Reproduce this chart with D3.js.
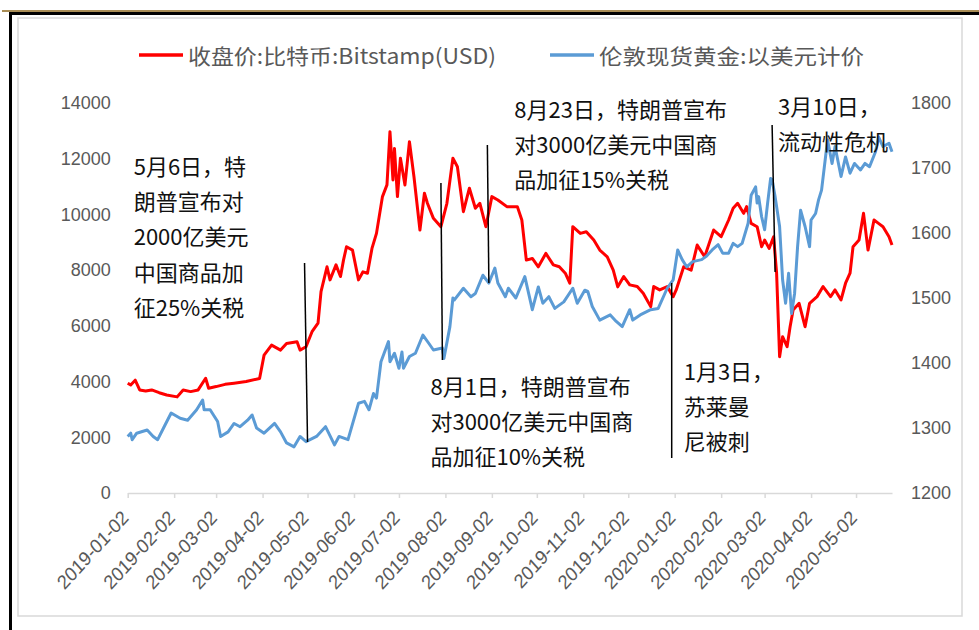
<!DOCTYPE html>
<html>
<head>
<meta charset="utf-8">
<script src="https://cdn.jsdelivr.net/npm/d3@7"></script>
<style>
  body { margin: 0; background: #fff; }
  svg { display: block; }
  .tick text, .axis-label { font-family: "Liberation Sans", Arial, sans-serif; }
  .cn { font-family: "Noto Sans CJK SC", sans-serif; }
</style>
</head>
<body>
<svg width="979" height="630"></svg>
<script>
// 比特币收盘价 (左轴, USD)
const btcDates = ['2019-01-02','2019-01-04','2019-01-07','2019-01-10','2019-01-14','2019-01-18','2019-01-23','2019-01-28','2019-02-04','2019-02-08','2019-02-13','2019-02-18','2019-02-23','2019-02-25','2019-03-02','2019-03-08','2019-03-14','2019-03-22','2019-03-31','2019-04-03','2019-04-08','2019-04-14','2019-04-18','2019-04-25','2019-04-27','2019-05-01','2019-05-05','2019-05-09','2019-05-11','2019-05-15','2019-05-17','2019-05-21','2019-05-24','2019-05-26','2019-05-28','2019-06-01','2019-06-05','2019-06-08','2019-06-11','2019-06-14','2019-06-17','2019-06-21','2019-06-24','2019-06-26','2019-06-28','2019-06-29','2019-07-01','2019-07-03','2019-07-06','2019-07-09','2019-07-12','2019-07-16','2019-07-19','2019-07-21','2019-07-25','2019-07-30','2019-08-03','2019-08-07','2019-08-10','2019-08-14','2019-08-18','2019-08-22','2019-08-25','2019-08-29','2019-09-02','2019-09-06','2019-09-12','2019-09-19','2019-09-22','2019-09-25','2019-09-29','2019-10-03','2019-10-08','2019-10-13','2019-10-17','2019-10-21','2019-10-24','2019-10-26','2019-10-31','2019-11-04','2019-11-09','2019-11-13','2019-11-18','2019-11-22','2019-11-25','2019-11-29','2019-12-03','2019-12-08','2019-12-12','2019-12-17','2019-12-19','2019-12-23','2019-12-28','2020-01-01','2020-01-03','2020-01-08','2020-01-13','2020-01-17','2020-01-22','2020-01-28','2020-02-02','2020-02-07','2020-02-10','2020-02-13','2020-02-17','2020-02-19','2020-02-22','2020-02-26','2020-02-29','2020-03-02','2020-03-05','2020-03-08','2020-03-10','2020-03-12','2020-03-14','2020-03-17','2020-03-19','2020-03-21','2020-03-25','2020-03-29','2020-04-01','2020-04-06','2020-04-10','2020-04-15','2020-04-18','2020-04-22','2020-04-25','2020-04-28','2020-04-30','2020-05-04','2020-05-07','2020-05-10','2020-05-14','2020-05-17','2020-05-20','2020-05-24','2020-05-26']
const btcClose = [3940,3880,4050,3700,3660,3700,3600,3520,3450,3700,3640,3700,4120,3760,3820,3900,3940,4000,4110,4950,5310,5130,5370,5430,5130,5250,5790,6100,7230,8120,7650,8190,7770,8360,8840,8720,7650,7940,7890,8780,9320,10640,11060,12970,11240,12370,10640,12020,11060,12610,11360,9440,10760,10400,9860,9560,10400,12020,11710,10100,10940,10220,10400,9560,10640,10520,10280,10280,9800,8360,8420,8120,8600,8190,8120,7890,7530,9560,9320,9380,9080,8720,8480,8000,7400,7770,7470,7410,7170,6690,7410,7290,7410,7050,7290,8120,8000,8900,8480,9440,9200,9800,10220,10400,10040,10280,9680,9560,8840,9080,8780,9200,7890,4890,5610,5250,5970,6570,6810,5970,6810,7050,7410,7050,7290,6930,7530,7890,8840,9080,10040,8720,9800,9680,9560,9200,8900]

// 伦敦现货黄金 (右轴, 美元/盎司)
const goldDates = ['2019-01-02','2019-01-04','2019-01-05','2019-01-08','2019-01-15','2019-01-19','2019-01-22','2019-01-27','2019-01-31','2019-02-06','2019-02-11','2019-02-17','2019-02-21','2019-02-22','2019-02-26','2019-03-03','2019-03-05','2019-03-10','2019-03-14','2019-03-18','2019-03-23','2019-03-26','2019-03-29','2019-04-03','2019-04-10','2019-04-14','2019-04-18','2019-04-23','2019-04-27','2019-05-01','2019-05-08','2019-05-14','2019-05-20','2019-05-23','2019-05-29','2019-06-05','2019-06-09','2019-06-12','2019-06-15','2019-06-17','2019-06-20','2019-06-25','2019-06-26','2019-06-29','2019-07-02','2019-07-04','2019-07-05','2019-07-09','2019-07-13','2019-07-18','2019-07-22','2019-07-25','2019-07-31','2019-08-01','2019-08-05','2019-08-07','2019-08-08','2019-08-14','2019-08-19','2019-08-22','2019-08-27','2019-08-31','2019-09-04','2019-09-06','2019-09-11','2019-09-13','2019-09-18','2019-09-24','2019-09-29','2019-10-03','2019-10-06','2019-10-10','2019-10-14','2019-10-20','2019-10-26','2019-10-29','2019-11-03','2019-11-05','2019-11-08','2019-11-13','2019-11-20','2019-11-24','2019-11-28','2019-12-03','2019-12-05','2019-12-10','2019-12-17','2019-12-22','2019-12-28','2020-01-01','2020-01-04','2020-01-07','2020-01-10','2020-01-14','2020-01-20','2020-01-23','2020-01-27','2020-01-31','2020-02-03','2020-02-07','2020-02-10','2020-02-13','2020-02-16','2020-02-20','2020-02-22','2020-02-25','2020-02-26','2020-02-27','2020-02-29','2020-03-02','2020-03-04','2020-03-06','2020-03-07','2020-03-09','2020-03-12','2020-03-14','2020-03-16','2020-03-18','2020-03-20','2020-03-22','2020-03-24','2020-03-26','2020-03-29','2020-04-01','2020-04-02','2020-04-05','2020-04-07','2020-04-09','2020-04-13','2020-04-16','2020-04-18','2020-04-22','2020-04-25','2020-04-28','2020-05-01','2020-05-05','2020-05-08','2020-05-11','2020-05-15','2020-05-17','2020-05-20','2020-05-24','2020-05-26']
const goldPrice = [1287,1292,1282,1292,1297,1287,1282,1305,1323,1315,1312,1328,1343,1328,1328,1310,1287,1294,1307,1302,1312,1320,1300,1292,1307,1294,1277,1271,1287,1279,1287,1302,1274,1287,1282,1338,1341,1328,1353,1346,1402,1433,1402,1415,1392,1417,1392,1410,1415,1443,1430,1420,1423,1407,1456,1500,1497,1515,1502,1507,1535,1523,1546,1523,1502,1515,1500,1533,1482,1517,1492,1502,1484,1494,1515,1492,1512,1510,1487,1466,1474,1464,1456,1482,1466,1474,1482,1484,1515,1528,1574,1559,1548,1556,1559,1564,1574,1582,1569,1569,1584,1579,1584,1615,1658,1671,1646,1656,1625,1605,1646,1684,1682,1656,1610,1528,1492,1538,1476,1507,1579,1635,1610,1579,1620,1630,1651,1666,1743,1707,1733,1687,1717,1692,1707,1697,1707,1702,1725,1748,1733,1738,1725]

const leftTicks = [0, 2000, 4000, 6000, 8000, 10000, 12000, 14000]
const rightTicks = [1200, 1300, 1400, 1500, 1600, 1700, 1800]
const monthTicks = ['2019-01-02','2019-02-02','2019-03-02','2019-04-02','2019-05-02','2019-06-02','2019-07-02','2019-08-02','2019-09-02','2019-10-02','2019-11-02','2019-12-02','2020-01-02','2020-02-02','2020-03-02','2020-04-02','2020-05-02']
const seriesNames = ['收盘价:比特币:Bitstamp(USD)', '伦敦现货黄金:以美元计价']

// 事件标注: 文字锚点(日期, 左轴数值) 与竖线(起止日期, 起止数值)
const noteDates = ['2019-01-06', '2019-09-17', '2020-03-11', '2019-07-23', '2020-01-08']
const noteValues = [11775, 13820, 13929, 3877, 4415]
const noteLines = [
  ['5月6日，特', '朗普宣布对', '2000亿美元', '中国商品加', '征25%关税'],
  ['8月23日，特朗普宣布', '对3000亿美元中国商', '品加征15%关税'],
  ['3月10日，', '流动性危机'],
  ['8月1日，特朗普宣布', '对3000亿美元中国商', '品加征10%关税'],
  ['1月3日，', '苏莱曼', '尼被刺']
]
const markTop = [['2019-04-30', 8256], ['2019-07-30', 11128], ['2019-08-30', 12492], ['2019-12-31', 7538], ['2020-03-07', 13210]]
const markBottom = [['2019-05-02', 1831], ['2019-07-31', 4774], ['2019-08-31', 7538], ['2019-12-31', 1256], ['2020-03-09', 7933]]

const parse = d3.timeParse('%Y-%m-%d')
const btc = btcDates.map((d, i) => ({ date: parse(d), v: btcClose[i] }))
const gold = goldDates.map((d, i) => ({ date: parse(d), v: goldPrice[i] }))

const svg = d3.select('svg')

// 外框
svg.append('line').attr('x1', 2).attr('x2', 979).attr('y1', 11).attr('y2', 11)
  .attr('stroke', '#a88c55').attr('stroke-width', 2)
svg.append('line').attr('x1', 9).attr('x2', 979).attr('y1', 13.5).attr('y2', 13.5)
  .attr('stroke', '#000').attr('stroke-width', 3)
svg.append('line').attr('x1', 10.5).attr('x2', 10.5).attr('y1', 12).attr('y2', 630)
  .attr('stroke', '#000').attr('stroke-width', 3)
svg.append('rect').attr('x', 18).attr('y', 18).attr('width', 944).attr('height', 598)
  .attr('fill', 'none').attr('stroke', '#d9d9d9').attr('stroke-width', 1.5)

const x = d3.scaleTime()
  .domain([parse('2019-01-02'), parse('2020-05-26')])
  .range([127.7, 892])
const yL = d3.scaleLinear().domain([0, 14000]).range([493, 103])
const yR = d3.scaleLinear().domain([1200, 1800]).range([493, 103])

// 坐标轴
const gx = svg.append('g')
  .attr('transform', 'translate(0, 493)')
  .call(d3.axisBottom(x)
    .tickValues(monthTicks.map(parse))
    .tickFormat(d3.timeFormat('%Y-%m-%d'))
    .tickSize(5)
    .tickSizeOuter(0))
gx.select('.domain').attr('stroke', '#d9d9d9').attr('stroke-width', 1.5)
gx.selectAll('.tick line').attr('stroke', '#d9d9d9').attr('stroke-width', 1.5)
gx.selectAll('.tick text')
  .attr('x', 0).attr('y', 0).attr('dy', '0.35em')
  .attr('text-anchor', 'end')
  .attr('transform', 'translate(-3, 21) scale(1, 1.1) rotate(-45)')
  .attr('fill', '#595959')
  .style('font-size', '18px')

const gl = svg.append('g')
  .attr('transform', 'translate(127.7, 0)')
  .call(d3.axisLeft(yL).tickValues(leftTicks).tickSize(0).tickPadding(17).tickFormat(d3.format('d')))
gl.select('.domain').remove()
gl.selectAll('.tick text').attr('fill', '#595959').style('font-size', '18px')

const gr = svg.append('g')
  .attr('transform', 'translate(892, 0)')
  .call(d3.axisRight(yR).tickValues(rightTicks).tickSize(0).tickPadding(19).tickFormat(d3.format('d')))
gr.select('.domain').remove()
gr.selectAll('.tick text').attr('fill', '#595959').style('font-size', '18px')

// 折线
const lineL = d3.line().x(d => x(d.date)).y(d => yL(d.v))
const lineR = d3.line().x(d => x(d.date)).y(d => yR(d.v))

svg.append('path').datum(btc)
  .attr('d', lineL)
  .attr('fill', 'none').attr('stroke', '#ff0000').attr('stroke-width', 3)
  .attr('stroke-linejoin', 'round')

svg.append('path').datum(gold)
  .attr('d', lineR)
  .attr('fill', 'none').attr('stroke', '#5b9bd5').attr('stroke-width', 3)
  .attr('stroke-linejoin', 'round')

// 图例
const legendColors = ['#ff0000', '#5b9bd5']
const legendX = [139, 550]
const legendW = [308, 265]
seriesNames.forEach((name, i) => {
  svg.append('line')
    .attr('x1', legendX[i]).attr('x2', legendX[i] + 44)
    .attr('y1', 55).attr('y2', 55)
    .attr('stroke', legendColors[i]).attr('stroke-width', 3.5)
  svg.append('text').attr('class', 'cn')
    .attr('x', legendX[i] + 49).attr('y', 55)
    .attr('dominant-baseline', 'central')
    .attr('textLength', legendW[i]).attr('lengthAdjust', 'spacingAndGlyphs')
    .attr('fill', '#595959').style('font-size', '21px')
    .text(name)
})

// 事件竖线
markTop.forEach((t, i) => {
  const b = markBottom[i]
  svg.append('line')
    .attr('x1', x(parse(t[0]))).attr('y1', yL(t[1]))
    .attr('x2', x(parse(b[0]))).attr('y2', yL(b[1]))
    .attr('stroke', '#000').attr('stroke-width', 1.5)
})

// 事件文字
noteLines.forEach((lines, i) => {
  const tx = x(parse(noteDates[i]))
  const ty = yL(noteValues[i])
  const t = svg.append('text').attr('class', 'cn')
    .attr('fill', '#111').style('font-size', '22px')
  lines.forEach((s, j) => {
    t.append('tspan')
      .attr('x', tx).attr('y', ty + j * 35.2)
      .attr('dominant-baseline', 'central')
      .text(s)
  })
})
</script>
</body>
</html>
